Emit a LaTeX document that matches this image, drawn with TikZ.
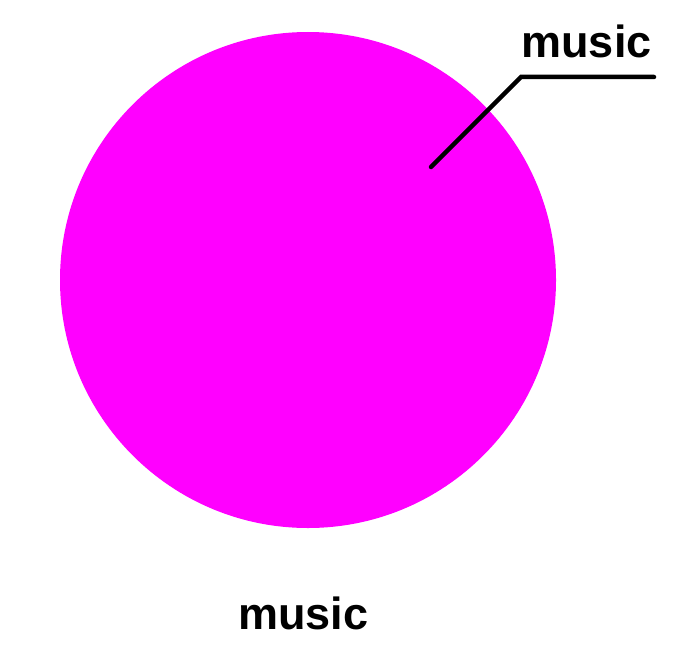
\documentclass[tikz,border=0pt]{standalone}
\usepackage{fontspec}
\setmainfont{Liberation Sans}
\definecolor{pinkfill}{HTML}{FF00FF}
\begin{document}
\begin{tikzpicture}[x=1pt,y=-1pt,
  lbl/.style={inner sep=0pt, anchor=base, font=\fontsize{45}{50}\selectfont\bfseries},
  leader/.style={line width=4.5pt, line cap=round, black}]
\useasboundingbox (0,0) rectangle (679,666);
\node[circle, fill=pinkfill, minimum size=496pt, inner sep=0pt] (disk) at (308,280) {};
\coordinate (tip) at (431,167);
\coordinate (bend) at (521,77);
\coordinate (tail) at (654,77);
\draw[leader] (tip) -- (bend) -- (tail);
\node[lbl] (toplabel) at (586.5,58) {music};
\node[lbl] (bottomlabel) at (303.5,629) {music};
\end{tikzpicture}
\end{document}
